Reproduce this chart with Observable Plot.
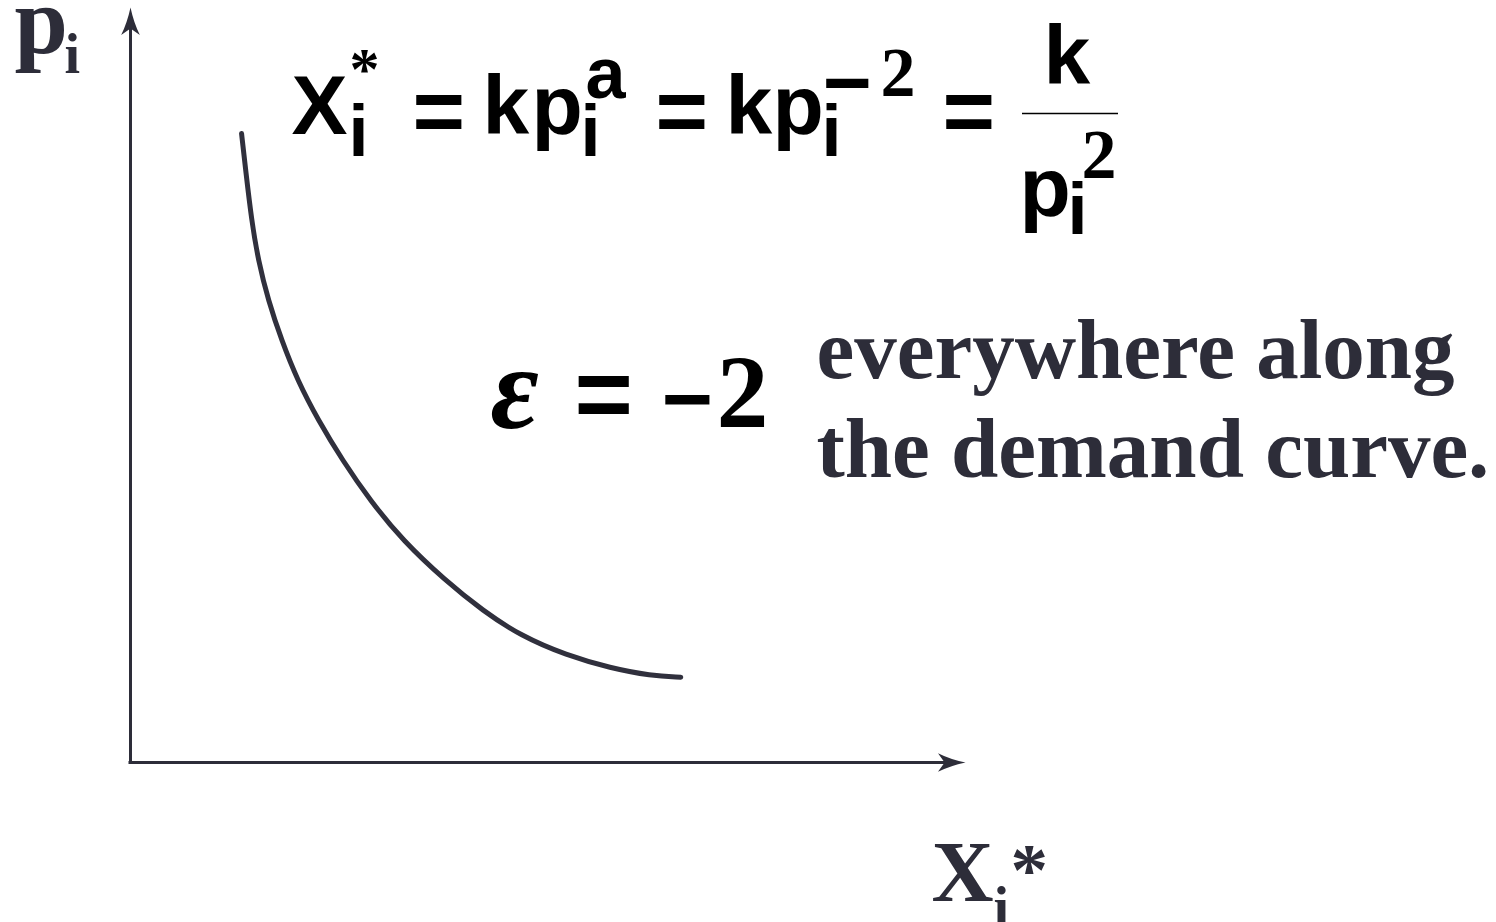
<!DOCTYPE html>
<html><head><meta charset="utf-8">
<script src="https://cdn.jsdelivr.net/npm/d3@7"></script>
<script src="https://cdn.jsdelivr.net/npm/@observablehq/plot@0.6"></script>
<style>html,body{margin:0;padding:0;background:#fff;overflow:hidden;}svg{display:block;}</style>
</head><body><div id="chart"></div>
<script>
// Demand curve: quantity X* (horizontal) vs price p (vertical), axes 0–10
const quantity = [1.33, 1.38, 1.45, 1.53, 1.65, 1.81, 2.00, 2.25, 2.54, 2.87, 3.26, 3.77, 4.22, 4.67, 5.22, 5.75, 6.23, 6.59];
const price    = [8.33, 7.84, 7.18, 6.65, 6.12, 5.59, 5.06, 4.53, 4.00, 3.47, 2.94, 2.41, 2.01, 1.68, 1.42, 1.25, 1.15, 1.13];
const axisMax = [10, 10];
const yTitle = ["p", "i"];
const xTitle = ["X", "i", "*"];
const formula = ["X", "*", "i", "=", "k", "p", "i", "a", "=", "k", "p", "i", "−", "2", "=", "k", "p", "i", "2"];
const elasticity = ["ε", "=", "−", "2"];
const note = ["everywhere along", "the demand curve."];

const W = 1496, H = 922, mL = 130, mR = 531, mT = 7, mB = 160;
const X = px => (px - mL) / (W - mL - mR) * axisMax[0];
const Y = py => (H - mB - py) / (H - mB - mT) * axisMax[1];
const INK = "#2d2d39";
const SANS = "Liberation Sans, Arial, sans-serif";
const SERIF = "Liberation Serif, Times New Roman, serif";

function label(str, px, py, size, family, opts = {}) {
  return Plot.text([str], {
    x: () => X(px), y: () => Y(py), text: d => d,
    textAnchor: "start", lineAnchor: "bottom",
    fontSize: size, fontFamily: family, fontWeight: "bold", fill: "black", ...opts
  });
}

// filled, swept arrowhead with its tip at the symbol origin, pointing up
const arrowHead = {
  draw(ctx, size) {
    const s = Math.sqrt(size / Math.PI) / 10;
    ctx.moveTo(0, 0);
    ctx.quadraticCurveTo(3 * s, 14 * s, 8.5 * s, 25 * s);
    ctx.lineTo(0, 19 * s);
    ctx.lineTo(-8.5 * s, 25 * s);
    ctx.quadraticCurveTo(-3 * s, 14 * s, 0, 0);
    ctx.closePath();
  }
};

const demand = quantity.map((q, i) => ({q, p: price[i]}));

// [token index, left px, baseline px, font size, family]
const fLayout = [
  [0, 291, 133, 84, SANS],
  [1, 349, 88, 60, SERIF],
  [2, 348, 155, 72, SANS],
  [3, 412, 141, 90, SANS],
  [4, 482, 133, 84, SANS],
  [5, 531, 133, 84, SANS],
  [6, 580, 155, 72, SANS],
  [7, 585, 97, 72, SANS],
  [8, 655, 141, 90, SANS],
  [9, 725, 133, 84, SANS],
  [10, 772, 133, 84, SANS],
  [11, 821, 155, 72, SANS],
  [12, 822, 110, 84, SANS],
  [13, 880, 95, 70, SERIF],
  [14, 942, 141, 90, SANS],
  [15, 1043, 83, 84, SANS],
  [16, 1019, 215, 84, SANS],
  [17, 1067, 233, 72, SANS],
  [18, 1081, 177, 70, SERIF]
];

const marks = [
  // axes
  Plot.ruleX([0], {y1: 0, y2: axisMax[1] * 0.975, stroke: INK, strokeWidth: 3, strokeLinecap: "square"}),
  Plot.ruleY([0], {x1: 0, x2: axisMax[0] * 0.98, stroke: INK, strokeWidth: 3, strokeLinecap: "square"}),
  Plot.dot([[0, axisMax[1]]], {x: d => d[0], y: d => d[1], symbol: arrowHead, r: 11, fill: INK, stroke: "none"}),
  Plot.dot([[axisMax[0], 0]], {x: d => d[0], y: d => d[1], symbol: arrowHead, r: 11, fill: INK, stroke: "none", rotate: 90}),
  // demand curve
  Plot.line(demand, {x: "q", y: "p", stroke: "#30303d", strokeWidth: 5, curve: "basis", strokeLinecap: "round"}),
  // axis titles
  label(yTitle[0], 14, 52, 96, SERIF, {fill: INK}),
  label(yTitle[1], 64, 72, 56, SERIF, {fill: INK}),
  label(xTitle[0], 931, 900, 86, SERIF, {fill: INK}),
  label(xTitle[1], 993, 925, 56, SERIF, {fill: INK}),
  label(xTitle[2], 1010, 894, 75, SERIF, {fill: INK}),
  // formula
  ...fLayout.map(([i, px, py, size, fam]) => label(formula[i], px, py, size, fam)),
  Plot.ruleY([Y(113)], {x1: X(1022), x2: X(1118), stroke: "black", strokeWidth: 1.5}),
  // elasticity
  label(elasticity[0], 490, 427, 118, SERIF, {fontStyle: "italic"}),
  label(elasticity[1], 574, 427, 100, SANS),
  label(elasticity[2], 661, 428, 88, SANS),
  label(elasticity[3], 716, 426, 104, SERIF),
  // note
  label(note[0], 816, 377, 85, SERIF, {fill: INK}),
  label(note[1], 816, 476, 85, SERIF, {fill: INK})
];

const chart = Plot.plot({
  width: W, height: H,
  marginLeft: mL, marginRight: mR, marginTop: mT, marginBottom: mB,
  x: {domain: [0, axisMax[0]], axis: null},
  y: {domain: [0, axisMax[1]], axis: null},
  style: {background: "white"},
  marks
});
document.getElementById("chart").append(chart);
</script>
</body></html>
